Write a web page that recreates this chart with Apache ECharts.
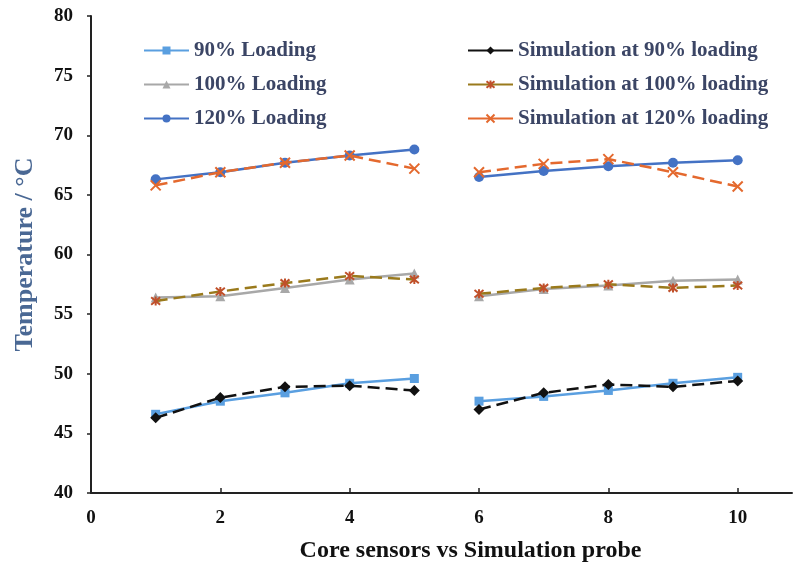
<!DOCTYPE html>
<html>
<head>
<meta charset="utf-8">
<script src="https://cdn.jsdelivr.net/npm/echarts@6/dist/echarts.min.js"></script>
<style>
  html, body { margin: 0; padding: 0; background: #fff; }
  #chart { width: 793px; height: 568px; }
</style>
</head>
<body>
<div id="chart"></div>
<script>
// Probe positions: core sensors 1-5 and simulation probes 6-10
const probes = [1, 2, 3, 4, 5, 6, 7, 8, 9, 10];
const xTicks = [0, 2, 4, 6, 8, 10];
const yTicks = [40, 45, 50, 55, 60, 65, 70, 75, 80];

// Temperatures (°C)
const loading90  = [46.6, 47.7, 48.4, 49.2, 49.6, 47.7, 48.1, 48.6, 49.2, 49.7];
const sim90      = [46.3, 48.0, 48.9, 49.0, 48.6, 47.0, 48.4, 49.1, 48.9, 49.4];
const loading100 = [56.4, 56.5, 57.2, 57.9, 58.4, 56.5, 57.1, 57.4, 57.8, 57.9];
const sim100     = [56.1, 56.9, 57.6, 58.2, 57.9, 56.7, 57.2, 57.5, 57.2, 57.4];
const loading120 = [66.3, 66.9, 67.7, 68.3, 68.8, 66.5, 67.0, 67.4, 67.7, 67.9];
const sim120     = [65.8, 66.9, 67.7, 68.3, 67.2, 66.9, 67.6, 68.0, 66.9, 65.7];

// Pair values with probe positions; a gap separates the two probe groups
function pairs(values) {
  const out = [];
  probes.forEach((p, i) => {
    out.push([p, values[i]]);
    if (p === 5) out.push([5.5, '-']);
  });
  return out;
}

const FONT = 'Liberation Serif';
const CROSS = 'path://M0,0L10,10M10,0L0,10';
const ASTER = 'path://M0,0L10,10M10,0L0,10M5,-1L5,11';

function lineSeries(name, values, color, symbol, size, dashed, extra) {
  const s = {
    name: name,
    type: 'line',
    data: pairs(values),
    connectNulls: false,
    symbol: symbol,
    symbolSize: size,
    lineStyle: { color: color, width: 2.5, type: dashed ? [12, 6] : 'solid' },
    itemStyle: { color: color },
    z: dashed ? 3 : 2
  };
  return Object.assign(s, extra || {});
}

const series = [
  lineSeries('90% Loading', loading90, '#5a9fe0', 'rect', 9, false),
  lineSeries('100% Loading', loading100, '#a8a8a8', 'triangle', 10, false),
  lineSeries('120% Loading', loading120, '#4472c4', 'circle', 10, false),
  lineSeries('Simulation at 90% loading', sim90, '#111111', 'diamond', 11, true),
  lineSeries('Simulation at 100% loading', sim100, '#9a7a1c', ASTER, 9, true,
    { itemStyle: { color: '#c0502a', borderColor: '#c0502a', borderWidth: 2 } }),
  lineSeries('Simulation at 120% loading', sim120, '#e4692e', CROSS, 10, true,
    { itemStyle: { color: '#e4692e', borderColor: '#e4692e', borderWidth: 2 } })
];

const legendText = { fontFamily: FONT, fontWeight: 'bold', fontSize: 21, color: '#3b4565' };
const legendBase = {
  orient: 'vertical',
  itemWidth: 45,
  itemHeight: 10,
  itemGap: 13,
  textStyle: legendText,
  lineStyle: { type: 'solid' },
  selectedMode: false
};

const option = {
  animation: false,
  backgroundColor: '#ffffff',
  grid: { left: 91, top: 16, right: 1, bottom: 72, containLabel: false },
  legend: [
    Object.assign({}, legendBase, {
      left: 138, top: 35,
      data: ['90% Loading', '100% Loading', '120% Loading']
    }),
    Object.assign({}, legendBase, {
      left: 462, top: 35,
      data: ['Simulation at 90% loading', 'Simulation at 100% loading', 'Simulation at 120% loading']
    })
  ],
  xAxis: {
    type: 'value',
    min: xTicks[0],
    max: 10.84,
    interval: 2,
    name: 'Core sensors vs Simulation probe',
    nameLocation: 'middle',
    nameGap: 46,
    nameTextStyle: { fontFamily: FONT, fontWeight: 'bold', fontSize: 24, color: '#111', padding: [0, 0, 0, 58] },
    axisLine: { show: true, lineStyle: { color: '#222', width: 2 } },
    axisTick: { show: true, inside: true, length: 5, lineStyle: { color: '#222', width: 1.5 } },
    axisLabel: {
      fontFamily: FONT, fontWeight: 'bold', fontSize: 19, color: '#111', margin: 16,
      showMaxLabel: false,
      formatter: v => (xTicks.indexOf(v) >= 0 ? String(v) : '')
    },
    splitLine: { show: false }
  },
  yAxis: {
    type: 'value',
    min: yTicks[0],
    max: yTicks[yTicks.length - 1],
    interval: 5,
    name: 'Temperature / °C',
    nameLocation: 'middle',
    nameGap: 53,
    nameRotate: 90,
    nameTextStyle: { fontFamily: FONT, fontWeight: 'bold', fontSize: 26, color: '#4a6894' },
    axisLine: { show: true, lineStyle: { color: '#222', width: 2 } },
    axisTick: { show: true, inside: false, length: 4, lineStyle: { color: '#222', width: 1.5 } },
    axisLabel: { fontFamily: FONT, fontWeight: 'bold', fontSize: 19, color: '#111', margin: 18 },
    splitLine: { show: false }
  },
  series: series
};

const chart = echarts.init(document.getElementById('chart'), null, { renderer: 'canvas' });
chart.setOption(option);
</script>
</body>
</html>
